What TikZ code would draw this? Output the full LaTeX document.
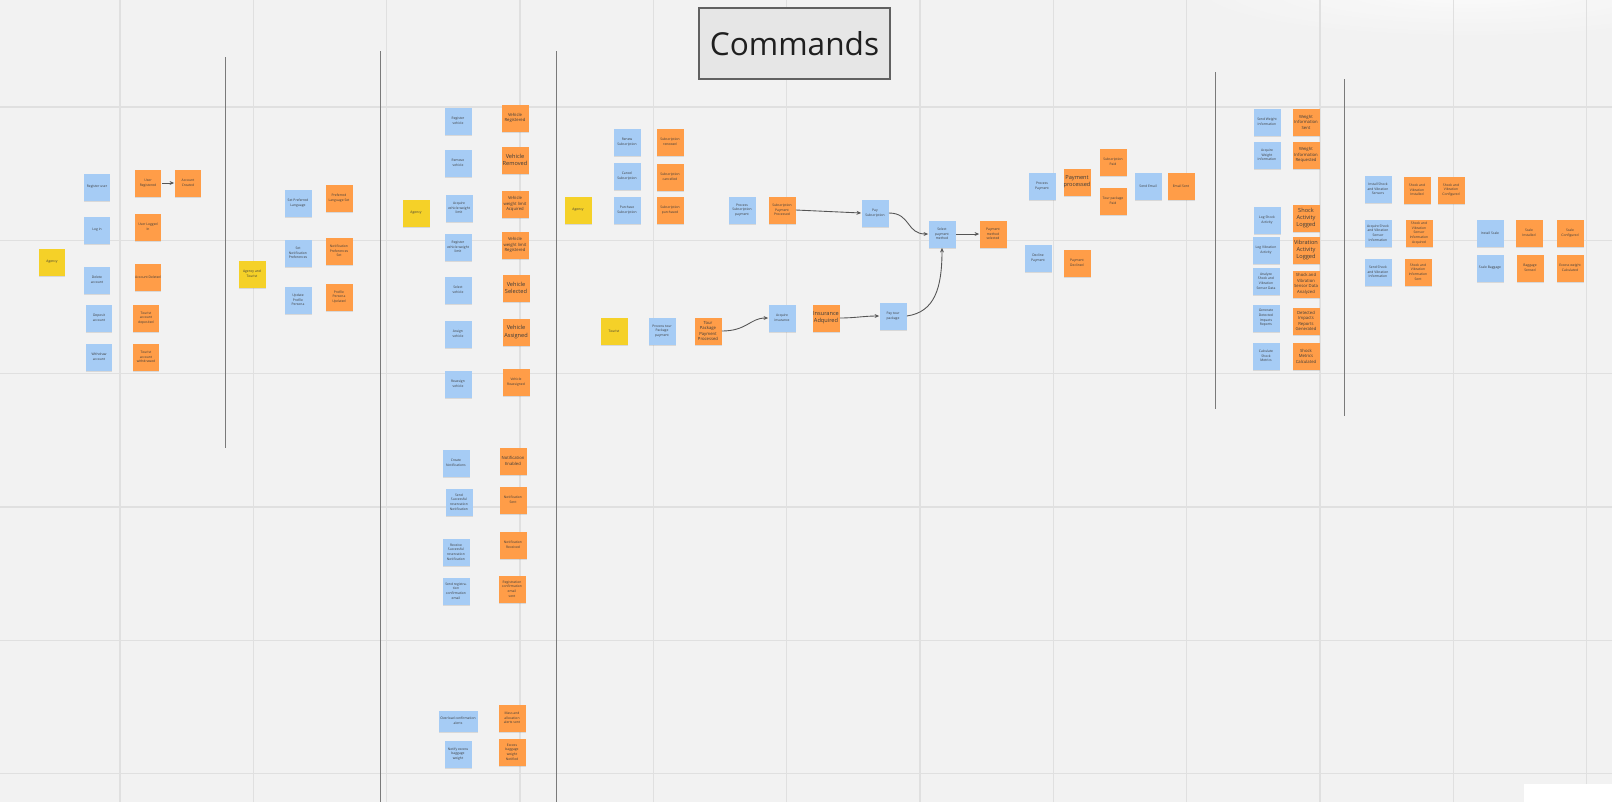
\documentclass[tikz,border=0pt]{standalone}
\usepackage{fontspec}
\setmainfont{Open Sans}
\usetikzlibrary{arrows.meta,shadows}
\definecolor{bg}{HTML}{F2F2F2}
\definecolor{gridc}{HTML}{E0E0E0}
\definecolor{nblue}{HTML}{A6CCF5}
\definecolor{norange}{HTML}{FF9D48}
\definecolor{nyellow}{HTML}{F5D128}
\definecolor{txt}{HTML}{3A3A3A}
\definecolor{linec}{HTML}{7A7A7A}
\definecolor{conc}{HTML}{555555}
\definecolor{titlefill}{HTML}{E6E6E6}
\tikzset{
  note/.style={minimum width=0.54cm, minimum height=0.54cm, inner sep=0pt, align=center, text=txt,
    font=\fontsize{1.9}{2.6}\selectfont,
    drop shadow={shadow xshift=0pt, shadow yshift=-0.9pt, opacity=.22}},
  bl/.style={note, fill=nblue},
  ost/.style={note, fill=norange},
  ye/.style={note, fill=nyellow},
  mid/.style={font=\fontsize{2.4}{3.1}\selectfont},
  big/.style={font=\fontsize{3.2}{4.1}\selectfont},
  conn/.style={draw=conc, line width=0.5pt, -{Stealth[length=2.6pt,width=2.2pt]}},
  sep/.style={draw=linec, line width=0.45pt},
}
\begin{document}
\begin{tikzpicture}[x=0.02cm, y=-0.02cm]
\useasboundingbox (0,0) rectangle (1612,802);
\fill[bg] (0,0) rectangle (1612,802);
% faint light glow top right
\begin{scope}
\clip (0,0) rectangle (1612,802);
\shade[inner color=white, outer color=bg, opacity=0.7] (1470,-10) ellipse [x radius=300, y radius=50];
\end{scope}
% grid
\foreach \k in {0,...,11} \draw[gridc, line width=0.6pt] ({120+133.33*\k},0) -- ({120+133.33*\k},802);
\foreach \k in {1,...,5} \draw[gridc, line width=0.6pt] (0,{107+133.33*\k}) -- (1612,{107+133.33*\k});
\draw[gridc, line width=1pt] (0,107) -- (1612,107);
% white patch bottom right
\fill[white] (1524,784) rectangle (1612,802);
% separators
\draw[sep] (225,57) -- (225,448);
\draw[sep] (380,51) -- (380,802);
\draw[sep] (556,51) -- (556,802);
\draw[sep] (1215,72) -- (1215,409);
\draw[sep] (1344,79) -- (1344,416);
% title
\node[draw=black!62, fill=titlefill, line width=0.8pt, minimum width=3.82cm, minimum height=1.42cm, font=\fontsize{18}{21}\selectfont, text=black!88] (title) at (794.5,43.5) {Commands};

% ---- section 1
\node[ye] (ag1) at (52,262) {Agency};
\node[bl] (b1) at (97,187) {Register user};
\node[bl] (b2) at (97,230) {Log in};
\node[bl] (b3) at (97,280) {Delete\\account};
\node[bl] (b4) at (99,318) {Deposit\\account};
\node[bl] (b5) at (99,357) {Withdraw\\account};
\node[ost] (o1) at (148,183) {User\\Registered};
\node[ost] (o1b) at (188,183) {Account\\Created};
\node[ost] (o2) at (148,227) {User Logged\\In};
\node[ost] (o3) at (148,277) {Account Deleted};
\node[ost] (o4) at (146,318) {Tourist\\account\\deposited};
\node[ost] (o5) at (146,357) {Tourist\\account\\withdrawed};
\draw[conn] (o1) -- (o1b);

% ---- section 2
\node[ye] (ag2) at (252,274) {Agency and\\Tourist};
\node[bl] (b6) at (298,203) {Set Preferred\\Language};
\node[ost] (o6) at (339,198) {Preferred\\Language Set};
\node[bl] (b7) at (298,253) {Set\\Notification\\Preferences};
\node[ost] (o7) at (339,251) {Notification\\Preferences\\Set};
\node[bl] (b8) at (298,300) {Update\\Profile\\Persona};
\node[ost] (o8) at (339,297) {Profile\\Persona\\Updated};

% ---- section 3
\node[ye] (ag3) at (416,213) {Agency};
\node[bl] (b9) at (458,121) {Register\\vehicle};
\node[ost,mid] (o9) at (515,118) {Vehicle\\Registered};
\node[bl] (b10) at (458,163) {Remove\\vehicle};
\node[ost,big] (o10) at (515,160) {Vehicle\\Removed};
\node[bl] (b11) at (459,208) {Acquire\\vehicle weight\\limit};
\node[ost,mid] (o11) at (515,204) {Vehicle\\weight limit\\Acquired};
\node[bl] (b12) at (458,247) {Register\\vehicle weight\\limit};
\node[ost,mid] (o12) at (515,245) {Vehicle\\weight limit\\Registered};
\node[bl] (b13) at (458,290) {Select\\vehicle};
\node[ost,big] (o13) at (516,288) {Vehicle\\Selected};
\node[bl] (b14) at (458,334) {Assign\\vehicle};
\node[ost,big] (o14) at (516,332) {Vehicle\\Assigned};
\node[bl] (b15) at (458,384) {Reassign\\vehicle};
\node[ost] (o15) at (516,382) {Vehicle\\Reassigned};
\node[bl] (b16) at (456,463) {Create\\Notifications};
\node[ost,mid] (o16) at (513,461) {Notification\\Enabled};
\node[bl] (b17) at (459,502) {Send\\Successful\\reservation\\Notification};
\node[ost] (o17) at (513,500) {Notification\\Sent};
\node[bl] (b18) at (456,552) {Receive\\Successful\\reservation\\Notification};
\node[ost] (o18) at (513,545) {Notification\\Received};
\node[bl] (b19) at (456,591) {Send registra-\\tion\\confirmation\\email};
\node[ost] (o19) at (512,589) {Registration\\confirmation\\email\\sent};
\node[bl, minimum width=0.78cm, minimum height=0.42cm] (b20) at (458,721) {Overload confirmation\\alerts};
\node[ost] (o20) at (512,718) {Mass and\\allocation\\alerts sent};
\node[bl] (b21) at (458,754) {Notify excess\\baggage\\weight};
\node[ost] (o21) at (512,752) {Excess\\baggage\\weight\\Notified};

% ---- section 4
\node[ye] (ag4) at (578,210) {Agency};
\node[bl] (b22) at (627,142) {Renew\\Subscription};
\node[ost] (o22) at (670,142) {Subscription\\renewed};
\node[bl] (b23) at (627,176) {Cancel\\Subscription};
\node[ost] (o23) at (670,177) {Subscription\\cancelled};
\node[bl] (b24) at (627,210) {Purchase\\Subscription};
\node[ost] (o24) at (670,210) {Subscription\\purchased};
\node[bl] (b25) at (742,210) {Process\\Subscription\\payment};
\node[ost] (o25) at (782,210) {Subscription\\Payment\\Processed};
\node[ye] (tou) at (614,331) {Tourist};
\node[bl] (b26) at (662,331) {Process tour\\Package\\payment};
\node[ost,mid] (o26) at (708,331) {Tour\\Package\\Payment\\Processed};
\node[bl] (b27) at (782,318) {Acquire\\insurance};
\node[ost,big] (o27) at (826,318) {Insurance\\Adquired};
\node[bl] (b28) at (893,316) {Pay tour\\package};
\node[bl] (b29) at (875,213) {Pay\\Subscription};
\node[bl] (b30) at (942,234) {Select\\payment\\method};
\node[ost] (o30) at (993,234) {Payment\\method\\selected};
\node[bl] (b31) at (1042,186) {Process\\Payment};
\node[ost,big] (o31) at (1077,182) {Payment\\processed};
\node[ost] (o32) at (1113,162) {Subscription\\Paid};
\node[ost] (o33) at (1113,201) {Tour package\\Paid};
\node[bl] (b34) at (1148,186) {Send Email};
\node[ost] (o34) at (1181,186) {Email Sent};
\node[bl] (b35) at (1038,258) {Decline\\Payment};
\node[ost] (o35) at (1077,263) {Payment\\Declined};

\draw[conn] (o25.east) -- (b29.west);
\draw[conn] (b29.east) .. controls +(22,0) and +(-22,0) .. (b30.west);
\draw[conn] (o26.east) .. controls +(25,0) and +(-18,0) .. (b27.west);
\draw[conn] (o27.east) .. controls +(15,0) and +(-15,0) .. (b28.west);
\draw[conn] (b28.east) .. controls +(28,-4) and +(0,40) .. (b30.south);
\draw[conn] (b30.east) -- (o30.west);

% ---- section 5
\node[bl] (b36) at (1267,122) {Send Weight\\Information};
\node[ost,mid] (o36) at (1306,122) {Weight\\Information\\Sent};
\node[bl] (b37) at (1267,155) {Acquire\\Weight\\Information};
\node[ost,mid] (o37) at (1306,155) {Weight\\Information\\Requested};
\node[bl] (b38) at (1267,220) {Log Shock\\Activity};
\node[ost,big] (o38) at (1306,218) {Shock\\Activity\\Logged};
\node[bl] (b39) at (1266,250) {Log Vibration\\Activity};
\node[ost,big] (o39) at (1306,250) {Vibration\\Activity\\Logged};
\node[bl] (b40) at (1266,281) {Analyze\\Shock and\\Vibration\\Sensor Data};
\node[ost,mid] (o40) at (1306,284) {Shock and\\Vibration\\Sensor Data\\Analyzed};
\node[bl] (b41) at (1266,318) {Generate\\Detected\\Impacts\\Reports};
\node[ost,mid] (o41) at (1306,321) {Detected\\Impacts\\Reports\\Generated};
\node[bl] (b42) at (1266,356) {Calculate\\Shock\\Metrics};
\node[ost,mid] (o42) at (1306,356) {Shock\\Metrics\\Calculated};

% ---- section 6
\node[bl] (b43) at (1378,189) {Install Shock\\and Vibration\\Sensors};
\node[ost] (o43) at (1417,190) {Shock and\\Vibration\\Installed};
\node[ost] (o44) at (1451,190) {Shock and\\Vibration\\Configured};
\node[bl] (b45) at (1378,233) {Acquire Shock\\and Vibration\\Sensor\\Information};
\node[ost] (o45) at (1419,233) {Shock and\\Vibration\\Sensor\\Information\\Acquired};
\node[bl] (b46) at (1378,272) {Send Shock\\and Vibration\\Information};
\node[ost] (o46) at (1418,272) {Shock and\\Vibration\\Information\\Sent};
\node[bl] (b47) at (1490,233) {Install Scale};
\node[ost] (o47) at (1529,233) {Scale\\Installed};
\node[ost] (o48) at (1570,233) {Scale\\Configured};
\node[bl] (b49) at (1490,268) {Scale Baggage};
\node[ost] (o49) at (1530,268) {Baggage\\Sensed};
\node[ost] (o50) at (1570,268) {Excess weight\\Calculated};
\end{tikzpicture}
\end{document}
